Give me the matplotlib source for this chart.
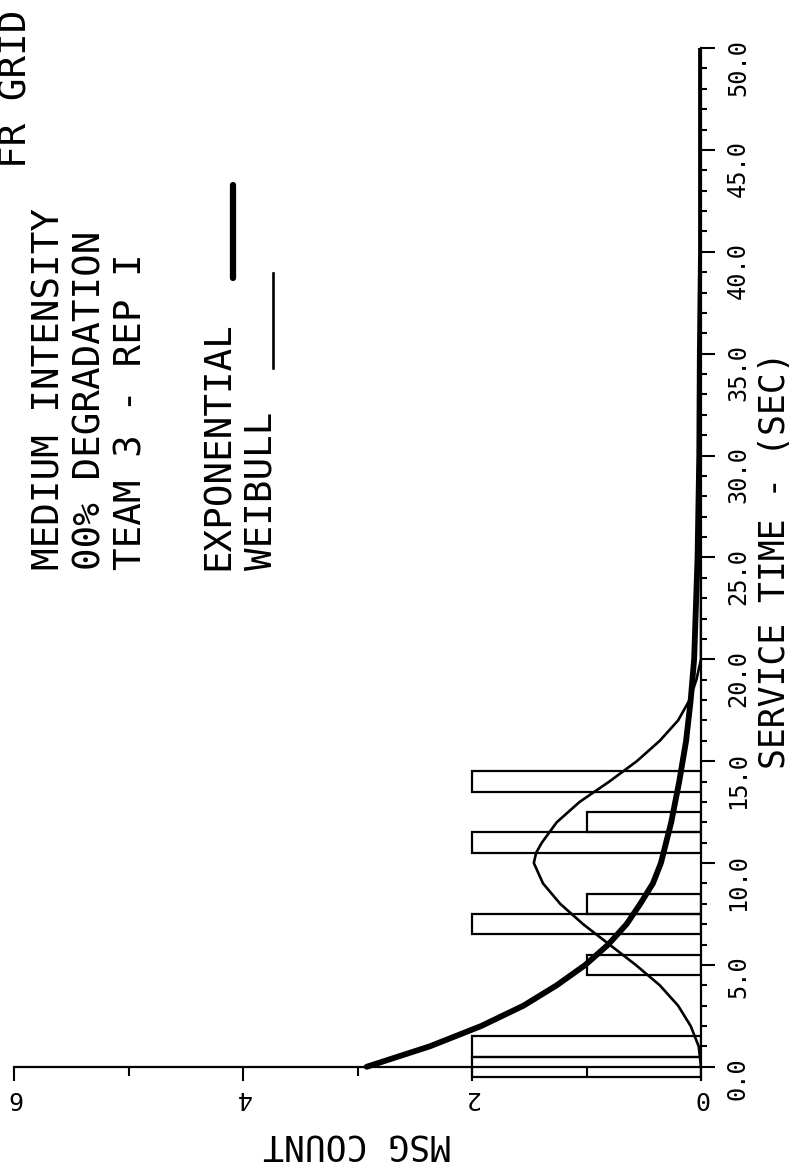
import matplotlib
matplotlib.use("Agg")
import matplotlib.pyplot as plt
import numpy as np

plt.rcParams['font.family'] = 'DejaVu Sans Mono'

# histogram of observed service times (sec) -> message count
bar_time = [0, 1, 5, 7, 8, 11, 12, 14]
bar_count = [2, 2, 1, 2, 1, 2, 1, 2]

# fitted exponential curve
exp_t = [0, 1, 2, 3, 4, 5, 6, 7, 8, 9, 10, 12, 14, 16, 18, 20, 25, 30, 35, 40, 45, 50]
exp_v = [2.92, 2.37, 1.92, 1.55, 1.26, 1.01, 0.81, 0.65, 0.53, 0.42, 0.35, 0.26,
         0.19, 0.13, 0.09, 0.06, 0.03, 0.015, 0.01, 0.0, 0.0, 0.0]

# fitted weibull curve
wei_t = [0, 1, 2, 3, 4, 5, 6, 7, 8, 9, 10, 10.5, 11, 12, 13, 14, 15, 16, 17, 18, 19, 20, 30, 40, 50]
wei_v = [0.0, 0.02, 0.09, 0.20, 0.36, 0.57, 0.80, 1.03, 1.23, 1.38, 1.46, 1.44, 1.39,
         1.26, 1.06, 0.80, 0.56, 0.36, 0.20, 0.10, 0.04, 0.0, 0.0, 0.0, 0.0]

time_ticks = np.arange(0, 55, 5)
count_ticks = [0, 2, 4, 6]

W, H = 791, 1169
fig = plt.figure(figsize=(W / 100, H / 100), dpi=100)

# plot is drawn turned on its side: service time runs up, count runs left
ax = fig.add_axes([14 / W, 1 - 1079 / H, 687 / W, (1079 - 48) / H])
ax.barh(bar_time, bar_count, height=1.0, fill=False, edgecolor='black', linewidth=1.6)
ax.plot(exp_v, exp_t, color='black', linewidth=4.2, solid_capstyle='round')
ax.plot(wei_v, wei_t, color='black', linewidth=1.9)

ax.set_xlim(6, 0)
ax.set_ylim(-0.6, 50)

ax.spines['top'].set_visible(False)
ax.spines['left'].set_visible(False)
ax.spines['right'].set_linewidth(1.6)
ax.spines['bottom'].set_linewidth(1.6)
ax.spines['bottom'].set_position(('data', 0))

ax.yaxis.tick_right()
ax.set_yticks(time_ticks)
ax.set_yticklabels(['%.1f' % t for t in time_ticks])
ax.set_yticks(np.arange(0, 51, 1), minor=True)
ax.set_xticks(count_ticks)
ax.set_xticklabels([str(c) for c in count_ticks])
ax.set_xticks([1, 3, 5], minor=True)

ax.tick_params(axis='y', which='major', length=10, width=1.5, labelsize=17,
               labelrotation=90, pad=8)
ax.tick_params(axis='y', which='minor', length=4.5, width=1.5)
ax.tick_params(axis='x', which='major', length=10, width=1.5, labelsize=18,
               labelrotation=180, pad=4)
ax.tick_params(axis='x', which='minor', length=6.5, width=1.5)

fig.text(775 / W, 1 - 560 / H, 'SERVICE TIME - (SEC)', rotation=90,
         ha='center', va='center', fontsize=25)
fig.text(357 / W, 1 - 1144 / H, 'MSG COUNT', rotation=180,
         ha='center', va='center', fontsize=25)

# header / legend block
hdr_x = [17, 50, 91, 132, 219, 261]
hdr_txt = ['FR GRID', 'MEDIUM INTENSITY', '00% DEGRADATION', 'TEAM 3 - REP I',
           'EXPONENTIAL', 'WEIBULL']
hdr_y0 = [168, 570, 570, 570, 570, 570]
for x, s, y0 in zip(hdr_x, hdr_txt, hdr_y0):
    fig.text(x / W, 1 - y0 / H, s, rotation=90, ha='center', va='bottom', fontsize=27)

fig.add_artist(plt.Line2D([233 / W, 233 / W], [1 - 278 / H, 1 - 185 / H],
                          color='black', linewidth=4.5, solid_capstyle='round'))
fig.add_artist(plt.Line2D([273 / W, 273 / W], [1 - 368 / H, 1 - 273 / H],
                          color='black', linewidth=1.9))

fig.savefig('out.png', dpi=100)
